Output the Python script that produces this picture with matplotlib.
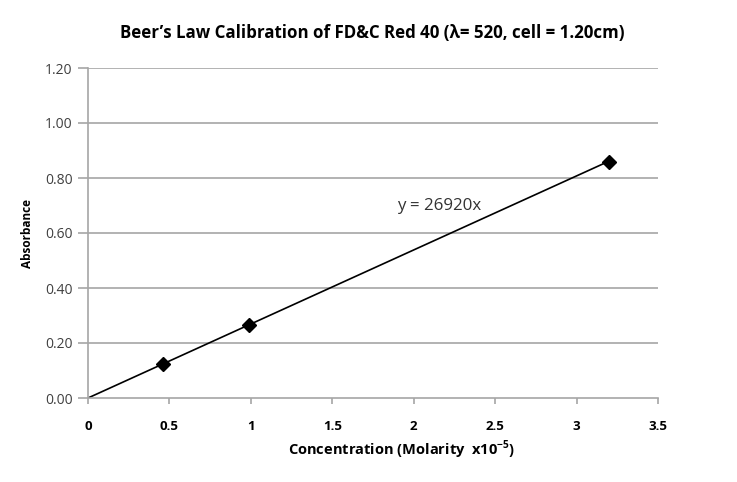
import matplotlib
matplotlib.use("Agg")
import matplotlib.pyplot as plt
import numpy as np

conc = [0.46, 0.99, 3.20]
absorb = [0.124, 0.266, 0.858]
slope_label = "y = 26920x"
slope = 0.2692
trend_x = [0.0, 3.20]
xticks = [0, 0.5, 1, 1.5, 2, 2.5, 3, 3.5]
xtick_labels = ["0", "0.5", "1", "1.5", "2", "2.5", "3", "3.5"]
yticks = [0.0, 0.2, 0.4, 0.6, 0.8, 1.0, 1.2]
ytick_labels = ["0.00", "0.20", "0.40", "0.60", "0.80", "1.00", "1.20"]

plt.rcParams['font.family'] = ['Open Sans', 'DejaVu Sans']
plt.rcParams['mathtext.fontset'] = 'custom'
plt.rcParams['mathtext.bf'] = 'Open Sans:bold'
plt.rcParams['mathtext.rm'] = 'Open Sans'

fig = plt.figure(figsize=(7.37, 4.82), dpi=100)
ax = fig.add_axes([88/737, 1-398/482, 570/737, 330/482])

ax.set_xlim(0, 3.5)
ax.set_ylim(0, 1.2)

grid_c = '#a6a6a6'
for y in yticks[1:]:
    ax.axhline(y, color=grid_c, lw=1.2, zorder=1)

tx = np.array(trend_x)
ax.plot(tx, slope * tx, color='black', lw=1.2, zorder=2)
ax.plot(conc, absorb, linestyle='none', marker='D', color='black', markersize=7.5, zorder=3)

ax.text(1.90, 0.70, slope_label, fontsize=12.2, color='#333333', va='center', ha='left')

for s in ['top', 'right']:
    ax.spines[s].set_visible(False)
for s in ['left', 'bottom']:
    ax.spines[s].set_color(grid_c)
    ax.spines[s].set_linewidth(1.2)

ax.set_xticks(xticks)
ax.set_xticklabels(xtick_labels, fontsize=9.5, fontweight='bold')
ax.set_yticks(yticks)
ax.set_yticklabels(ytick_labels, fontsize=10, color='#404040')
ax.tick_params(axis='x', direction='out', length=4, color=grid_c, width=1.2, pad=12)
ax.tick_params(axis='y', direction='out', length=7, color=grid_c, width=1.2, pad=4)

ax.set_xlabel("Concentration (Molarity  x10$^{\\mathbf{-5}}$)", fontsize=10.5, fontweight='bold', labelpad=4)
ax.xaxis.label.set_x(0.551)
ax.set_ylabel("Absorbance", fontsize=8.5, fontweight='bold', labelpad=8)

fig.text(372/737, 1-33/482, "Beer\u2019s Law Calibration of FD&C Red 40 (\u03bb= 520, cell = 1.20cm)",
         fontsize=12.2, fontweight='bold', ha='center', va='center')

fig.savefig("out.png", dpi=100, facecolor='white')
